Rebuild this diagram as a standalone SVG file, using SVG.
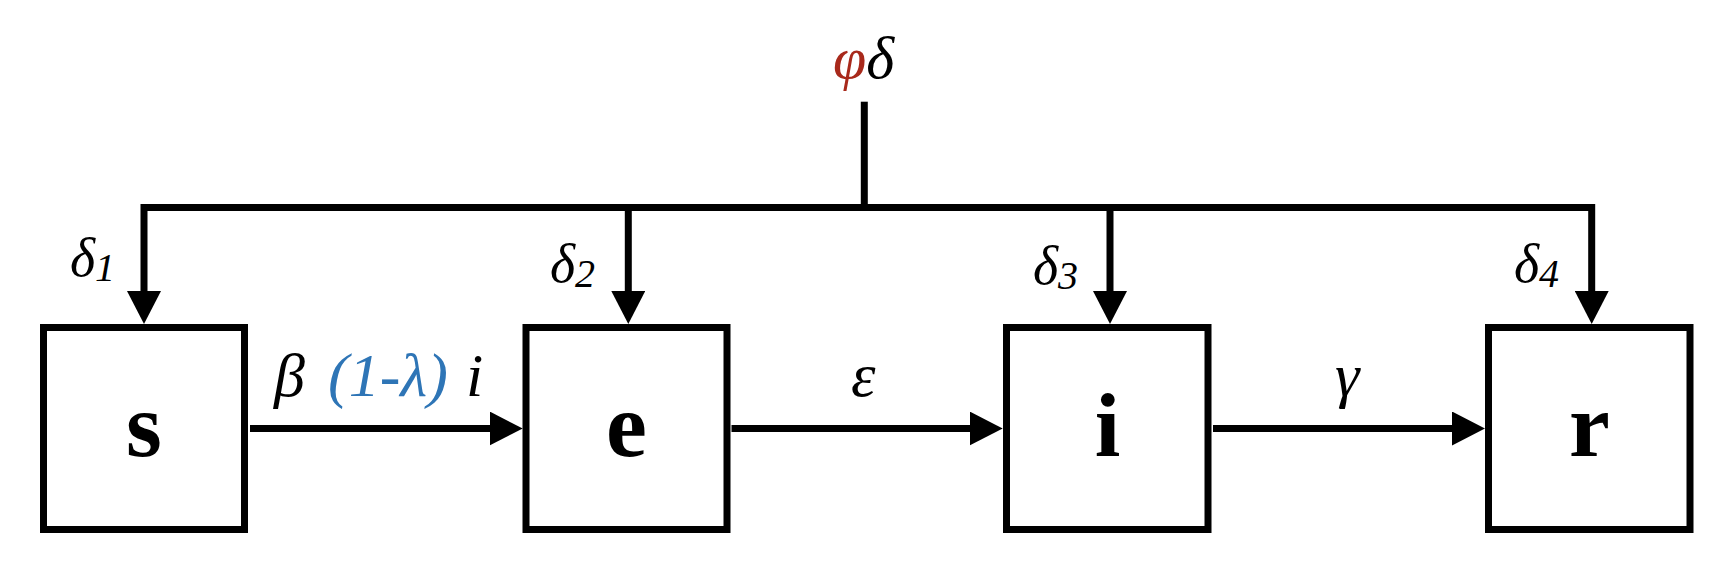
<svg xmlns="http://www.w3.org/2000/svg" width="1732" height="582" viewBox="0 0 1732 582">
<style>
.box{fill:#fff;stroke:#000;stroke-width:7}
.lbl{font-family:"Liberation Serif","Times New Roman",serif;font-weight:bold;font-size:92px;text-anchor:middle;fill:#000}
.math{font-family:"Liberation Serif","Times New Roman",serif;font-style:italic;fill:#000}
.wire{fill:none;stroke:#000;stroke-width:7;stroke-linejoin:miter}
</style>
<defs>
<marker id="ah" viewBox="0 0 33 34" refX="13" refY="17" markerWidth="33" markerHeight="34" markerUnits="userSpaceOnUse" orient="auto">
<path d="M0,0 L33,17 L0,34 z" fill="#000"/>
</marker>
</defs>
<rect width="1732" height="582" fill="#fff"/>
<g id="connectors">
<line class="wire" x1="864.3" y1="101.7" x2="864.3" y2="207.5"/>
<path class="wire" d="M144,304 V207.5 H1591.7 V304"/>
<line class="wire" x1="144" y1="300" x2="144" y2="304" marker-end="url(#ah)"/>
<line class="wire" x1="1591.7" y1="300" x2="1591.7" y2="304" marker-end="url(#ah)"/>
<line class="wire" x1="628.3" y1="207.5" x2="628.3" y2="304" marker-end="url(#ah)"/>
<line class="wire" x1="1110" y1="207.5" x2="1110" y2="304" marker-end="url(#ah)"/>
<line class="wire" x1="250" y1="428.5" x2="502.7" y2="428.5" marker-end="url(#ah)"/>
<line class="wire" x1="731.5" y1="428.5" x2="982.7" y2="428.5" marker-end="url(#ah)"/>
<line class="wire" x1="1213" y1="428.5" x2="1465" y2="428.5" marker-end="url(#ah)"/>
<text class="math" x="833" y="78" font-size="60"><tspan fill="#A8291B">φ</tspan>δ</text>
<text class="math" x="70" y="276" font-size="54">δ<tspan font-size="40" dy="5">1</tspan></text>
<text class="math" x="550" y="282" font-size="54">δ<tspan font-size="40" dy="5">2</tspan></text>
<text class="math" x="1033" y="284" font-size="54">δ<tspan font-size="40" dy="5">3</tspan></text>
<text class="math" x="1514" y="282" font-size="54">δ<tspan font-size="40" dy="5">4</tspan></text>
<text class="math" y="396" font-size="62"><tspan x="274">β</tspan><tspan x="328" fill="#2E75B6">(1-λ)</tspan><tspan x="466">i</tspan></text>
<text class="math" x="851" y="396" font-size="62">ε</text>
<text class="math" x="1335" y="396" font-size="62">γ</text>
</g>
<g id="node-s"><rect class="box" x="43.5" y="327.5" width="201" height="202"/><text class="lbl" x="144" y="456">s</text></g>
<g id="node-e"><rect class="box" x="526" y="327.5" width="201" height="202"/><text class="lbl" x="626.5" y="456">e</text></g>
<g id="node-i"><rect class="box" x="1006.5" y="327.5" width="201.5" height="202"/><text class="lbl" x="1107.5" y="456">i</text></g>
<g id="node-r"><rect class="box" x="1488.5" y="327.5" width="201.5" height="202"/><text class="lbl" x="1589.5" y="456">r</text></g>
</svg>
